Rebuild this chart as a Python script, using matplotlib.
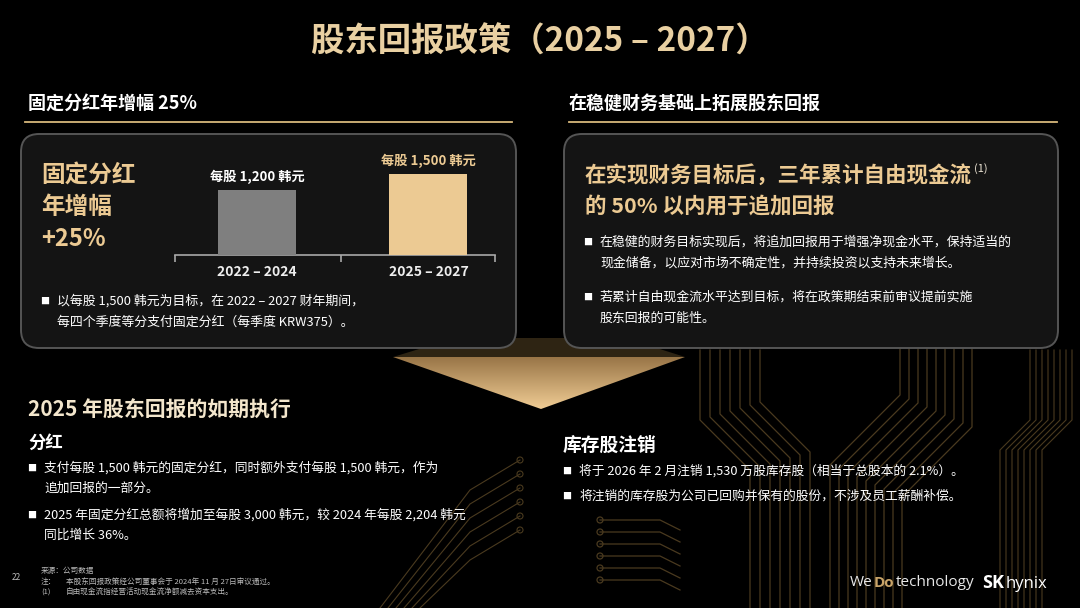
import matplotlib
matplotlib.use('Agg')
import matplotlib.pyplot as plt
import numpy as np
from matplotlib.patches import FancyBboxPatch, Polygon, Circle

plt.rcParams['font.family'] = ['Noto Sans CJK SC', 'DejaVu Sans']

# chart data
periods = ['2022 – 2024', '2025 – 2027']
dividend_per_share = [1200, 1500]
bar_labels = ['每股 1,200 韩元', '每股 1,500 韩元']

# slide texts
title = '股东回报政策（2025 – 2027）'
left_head = '固定分红年增幅 25%'
right_head = '在稳健财务基础上拓展股东回报'
big_left = ['固定分红', '年增幅', '+25%']
left_bullet = ['以每股 1,500 韩元为目标，在 2022 – 2027 财年期间，',
               '每四个季度等分支付固定分红（每季度 KRW375）。']
right_big = ['在实现财务目标后，三年累计自由现金流', '的 50% 以内用于追加回报']
right_bullets = [['在稳健的财务目标实现后，将追加回报用于增强净现金水平，保持适当的',
                  '现金储备，以应对市场不确定性，并持续投资以支持未来增长。'],
                 ['若累计自由现金流水平达到目标，将在政策期结束前审议提前实施',
                  '股东回报的可能性。']]
exec_head = '2025 年股东回报的如期执行'
div_head = '分红'
div_bullets = [['支付每股 1,500 韩元的固定分红，同时额外支付每股 1,500 韩元，作为',
                '追加回报的一部分。'],
               ['2025 年固定分红总额将增加至每股 3,000 韩元，较 2024 年每股 2,204 韩元',
                '同比增长 36%。']]
treasury_head = '库存股注销'
treasury_bullets = ['将于 2026 年 2 月注销 1,530 万股库存股（相当于总股本的 2.1%）。',
                    '将注销的库存股为公司已回购并保有的股份，不涉及员工薪酬补偿。']
notes = [('来源：公司数据', ''),
         ('注：', '本股东回报政策经公司董事会于 2024年 11 月 27日审议通过。'),
         ('(1)', '自由现金流指经营活动现金流净额减去资本支出。')]

GOLD = '#ecca93'
TITLE_GOLD = '#e9d0a2'
GRAY_BAR = '#7f7f7f'
TRACE = '#4a3a1f'


fig = plt.figure(figsize=(10.8, 6.08), dpi=100, facecolor='black')
bg = fig.add_axes([0, 0, 1, 1])
bg.set_facecolor('black')
bg.axis('off')


def put(x, y, s, size, color='white', weight='normal', ha='left', **kw):
    bg.text(x, y, s, fontsize=size, color=color, fontweight=weight, ha=ha,
            va='center', **kw)


def bullet(x, y):
    # small white square marker, centred on x
    put(x, y, '■', 6.5, 'white', ha='center', zorder=3)


# circuit-board style background traces (decoration only)
for k in range(9):
    x = 900 + k * 9
    bg.plot([x, x, x - 70, x - 70], [345, 395 + k * 4, 465 + k * 4, 608],
            color=TRACE, lw=0.9, zorder=0)
for k in range(7):
    x = 700 + k * 10
    bg.plot([x, x, x + 50, x + 50], [350, 420 - k * 3, 470 - k * 3, 608],
            color=TRACE, lw=0.9, zorder=0)
for k in range(6):
    y = 520 + k * 12
    bg.plot([600, 660, 680], [y, y, y + 10], color=TRACE, lw=0.9, zorder=0)
    bg.add_patch(Circle((600, y), 3, fill=False, ec=TRACE, lw=0.9, zorder=0))
for k in range(8):
    x = 1030 + k * 6
    bg.plot([x, x, x - 30, x - 30], [350, 420, 450, 608],
            color=TRACE, lw=0.8, zorder=0)
for k in range(6):
    y = 430 + k * 14
    bg.plot([380 + k * 8, 470, 520], [608, y + 60, y + 30], color=TRACE,
            lw=0.8, zorder=0)
    bg.add_patch(Circle((520, y + 30), 3, fill=False, ec=TRACE, lw=0.8,
                        zorder=0))

# title and section headers
put(540, 42, title, 24, TITLE_GOLD, 'bold', ha='center')
put(28, 103, left_head, 13, 'white', 'bold')
put(569, 103, right_head, 13, 'white', 'bold')
bg.plot([25, 512], [122, 122], color='#d8b87c', lw=1.3)
bg.plot([569, 1057], [122, 122], color='#d8b87c', lw=1.3)

# arrow between the two boxes
tri = Polygon([(393, 357), (685, 357), (541, 409)], closed=True,
              fc='none', ec='none')
bg.add_patch(tri)
grad = np.linspace(0, 1, 60)
c_top = np.array([0.60, 0.46, 0.28])
c_bot = np.array([0.94, 0.80, 0.58])
img = (c_top[None, :] * (1 - grad[:, None]) + c_bot[None, :] * grad[:, None])
img = img[:, None, :]
im = bg.imshow(img, extent=(393, 685, 409, 357), aspect='auto',
               origin='upper', zorder=1)
im.set_clip_path(tri)
bg.add_patch(Polygon([(455, 338), (625, 338), (685, 357), (393, 357)],
                     closed=True, fc='#2e2413', ec='none', zorder=1))

# rounded boxes
for (x0, y0, w, h) in [(21, 134, 495, 214), (564, 134, 494, 214)]:
    bg.add_patch(FancyBboxPatch((x0, y0), w, h,
                                boxstyle='round,pad=0,rounding_size=18',
                                fc='#141414', ec='#555555', lw=1.4, zorder=2))

# left box content
for i, s in enumerate(big_left):
    put(41, 175 + i * 32, s, 17, GOLD, 'bold', zorder=3)
bullet(45, 301)
put(57, 301, left_bullet[0], 9.3, 'white', zorder=3)
put(57, 322, left_bullet[1], 9.3, 'white', zorder=3)

# right box content
put(585, 175, right_big[0], 15.5, GOLD, 'bold', zorder=3)
put(585, 206, right_big[1], 15.5, GOLD, 'bold', zorder=3)
put(974, 169, '(1)', 8, '#ece4d4', zorder=3)
for j, lines in enumerate(right_bullets):
    y = 242 + j * 55
    bullet(588, y)
    for i, s in enumerate(lines):
        put(600, y + i * 21, s, 9.3, 'white', zorder=3)

# bar chart inside the left box
ax = fig.add_axes([175 / 1080, (608 - 255) / 608, 320 / 1080, 115 / 608])
ax.patch.set_alpha(0)
xs = np.arange(len(periods))
ax.bar(xs, dividend_per_share, width=0.455, color=[GRAY_BAR, GOLD], zorder=3)
ax.set_xlim(-0.478, 1.388)
ax.set_ylim(0, 1500 * 115 / 81)
for s in ['top', 'left', 'right']:
    ax.spines[s].set_visible(False)
ax.spines['bottom'].set_color('#a8a8a8')
ax.spines['bottom'].set_linewidth(1.2)
ax.set_yticks([])
ax.set_xticks(xs)
ax.set_xticklabels(periods, fontsize=10, color='#eeeeee', fontweight='bold')
ax.tick_params(axis='x', length=0, pad=7)
ax.set_xticks([-0.478, 0.49, 1.388], minor=True)
ax.tick_params(axis='x', which='minor', length=5, width=1.2, color='#a8a8a8')
label_colors = ['white', GOLD]
for x, v, lab, c in zip(xs, dividend_per_share, bar_labels, label_colors):
    ax.text(x, v + 240, lab, ha='center', va='center', fontsize=9.5,
            color=c, fontweight='bold')

# bottom left: 2025 execution
put(28, 410, exec_head, 15, '#f3e6cc', 'bold')
put(28, 443, div_head, 12.5, 'white', 'bold')
for j, lines in enumerate(div_bullets):
    y = 468 + j * 47
    bullet(32, y)
    for i, s in enumerate(lines):
        put(44, y + i * 20, s, 9.2, 'white')

# bottom right: treasury shares
put(563, 445, treasury_head, 13.5, 'white', 'bold')
for j, s in enumerate(treasury_bullets):
    y = 471 + j * 25
    bullet(567, y)
    put(579, y, s, 9.2, 'white')

# footnotes and page number
put(12, 578, '22', 6, '#bbbbbb')
for i, (a, b) in enumerate(notes):
    y = 571 + i * 11
    put(41, y, a, 5.5, '#bbbbbb', style='italic')
    if b:
        put(66, y, b, 5.5, '#bbbbbb', style='italic')

# logos
put(850, 583, 'We', 11, '#e8e8e8', family='Open Sans')
put(874, 583, 'Do', 11, '#c9a469', 'bold', family='Open Sans')
put(896, 583, 'technology', 11, '#e8e8e8', family='Open Sans')
put(982, 583, 'SK', 13, 'white', 'bold', family='Open Sans')
put(1006, 584, 'hynix', 12, 'white', family='Open Sans')

bg.set_xlim(0, 1080)
bg.set_ylim(608, 0)

fig.savefig('out.png', dpi=100, facecolor='black')
